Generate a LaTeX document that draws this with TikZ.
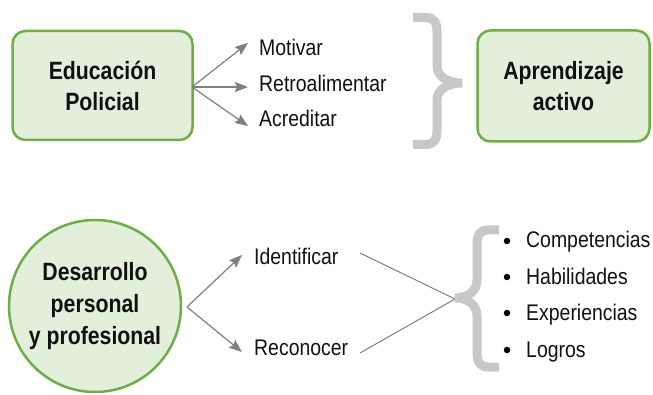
\documentclass[tikz,border=0pt]{standalone}
\usepackage{fontspec}
\setmainfont[FakeStretch=0.86]{Liberation Sans}
\newfontfamily\bcond[FakeStretch=0.85]{Liberation Sans Bold}
\usetikzlibrary{arrows.meta}
\definecolor{gborder}{HTML}{70AD47}
\definecolor{gfill}{HTML}{E2EFDA}
\definecolor{linegray}{HTML}{7F7F7F}
\definecolor{bracegray}{HTML}{C8C8C8}
\definecolor{txt}{HTML}{111111}
\tikzset{
  greenbox/.style={draw=gborder, fill=gfill, line width=2.5pt, rounded corners=13pt,
    align=center, text=txt, font=\bcond\fontsize{25}{31}\selectfont, inner sep=0pt},
  greencircle/.style={circle, draw=gborder, fill=gfill, line width=2.5pt,
    align=center, text=txt, font=\bcond\fontsize{25}{32}\selectfont, inner sep=0pt},
  label/.style={anchor=base west, inner sep=0pt, text=txt, font=\fontsize{22.6}{26}\selectfont},
  arr/.style={draw=linegray, line width=1.2pt, -{Stealth[length=13pt,width=10pt,inset=2pt]}},
  thinline/.style={draw=linegray, line width=1pt},
  bracestyle/.style={draw=bracegray, line width=9pt, line join=miter, miter limit=10},
  bullet/.style={circle, fill=black, inner sep=0pt, minimum size=6.5pt}
}
\begin{document}
\begin{tikzpicture}[x=1pt,y=-1pt]
\useasboundingbox (0,0) rectangle (653,395);

% top row
\node[greenbox, minimum width=180pt, minimum height=109pt] (edu) at (102.5,85.5) {Educación\\Policial};
\node[greenbox, minimum width=172pt, minimum height=111pt] (apr) at (563.5,86) {Aprendizaje\\activo};

\node[label] (mot) at (259,56) {Motivar};
\node[label] (ret) at (259,92) {Retroalimentar};
\node[label] (acr) at (259,127) {Acreditar};

\coordinate (tmot) at (248,43);
\coordinate (tret) at (248,87);
\coordinate (tacr) at (248,126);
\coordinate (eduo) at (192,87);

\draw[arr] (eduo) -- (tmot);
\draw[arr] (eduo) -- (tret);
\draw[arr] (eduo) -- (tacr);

\path[bracestyle] (413,17.5) -- (425,17.5) .. controls (434,17.5) and (437,22) .. (437,32)
  -- (437,66) .. controls (437,76) and (447,83) .. (462,83)
  .. controls (447,83) and (437,90) .. (437,100)
  -- (437,130) .. controls (437,140) and (434,144.5) .. (425,144.5) -- (413,144.5);

% bottom row
\node[greencircle, minimum size=172pt] (des) at (95,306) {Desarrollo\\personal\\y profesional};

\node[label] (ide) at (254,265) {Identificar};
\node[label] (rec) at (254,355) {Reconocer};

\coordinate (deso) at (187,307);
\coordinate (tide) at (242,255);
\coordinate (trec) at (242,352);
\draw[arr] (deso) -- (tide);
\draw[arr] (deso) -- (trec);

\coordinate (idee) at (360,253);
\coordinate (rece) at (360,353);
\coordinate (btip) at (455,299);
\draw[thinline] (idee) -- (btip);
\draw[thinline] (rece) -- (btip);

\path[bracestyle] (499,230) -- (488,230) .. controls (480,230) and (477,235) .. (477,245)
  -- (477,280) .. controls (477,291) and (468,298) .. (455,298)
  .. controls (468,298) and (477,305) .. (477,316)
  -- (477,352) .. controls (477,362) and (480,367) .. (488,367) -- (499,367);

\node[bullet] (b1) at (507,241) {};
\node[bullet] (b2) at (507,277) {};
\node[bullet] (b3) at (507,313) {};
\node[bullet] (b4) at (507,350) {};
\node[label] (l1) at (526,248) {Competencias};
\node[label] (l2) at (526,285) {Habilidades};
\node[label] (l3) at (526,320) {Experiencias};
\node[label] (l4) at (526,357) {Logros};
\end{tikzpicture}
\end{document}
